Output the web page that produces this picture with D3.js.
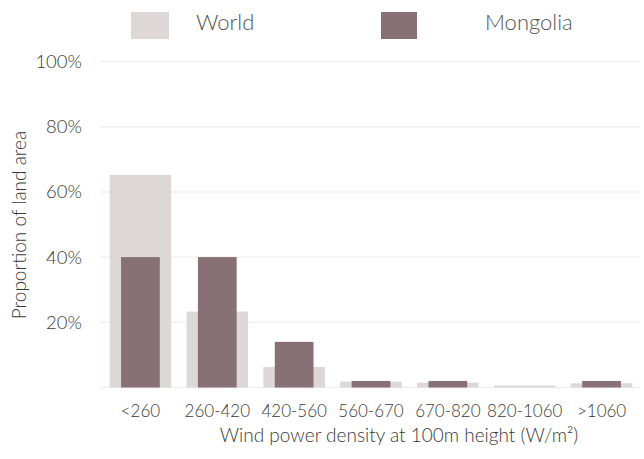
<!DOCTYPE html>
<html>
<head>
<meta charset="utf-8">
<script src="https://cdn.jsdelivr.net/npm/d3@7"></script>
<style>
  body { margin: 0; background: #fff; }
  text { font-family: Lato, "Open Sans", sans-serif; font-weight: 300; fill: #3a3a3a; }
</style>
</head>
<body>
<div id="chart"></div>
<script>
const categories = ["<260", "260-420", "420-560", "560-670", "670-820", "820-1060", ">1060"]
const world = [65.2, 23.3, 6.3, 1.8, 1.5, 0.6, 1.3]
const mongolia = [40, 40, 14, 2, 2, 0, 2]
const yTicks = [20, 40, 60, 80, 100]
const seriesNames = ["World", "Mongolia"]
const colors = {World: "#ddd7d8", Mongolia: "#877176"}

const W = 644, H = 459
const svg = d3.select("#chart").append("svg")
    .attr("width", W)
    .attr("height", H)

const x = d3.scaleBand()
    .domain(categories)
    .range([102, 640])
    .paddingInner(0.2)
    .paddingOuter(0.1)

const y = d3.scaleLinear()
    .domain([0, 100])
    .range([387.5, 61.5])

// gridlines
svg.append("g").selectAll("line")
    .data([0].concat(yTicks)).enter()
    .append("line")
    .attr("x1", 100).attr("x2", 640)
    .attr("y1", d => y(d)).attr("y2", d => y(d))
    .attr("stroke", "#f1f0f0")
    .attr("stroke-width", 1.5)

// y tick labels
svg.append("g").selectAll("text")
    .data(yTicks).enter()
    .append("text")
    .attr("x", 82)
    .attr("y", d => y(d) + 6.5)
    .attr("text-anchor", "end")
    .attr("font-size", 18.5)
    .text(d => d + "%")

// world bars (wide, behind)
svg.append("g").selectAll("rect")
    .data(world).enter()
    .append("rect")
    .attr("x", (d, i) => x(categories[i]))
    .attr("width", x.bandwidth())
    .attr("y", d => y(d))
    .attr("height", d => y(0) - y(d))
    .attr("fill", colors.World)

// mongolia bars (narrow, front)
const mw = x.bandwidth() * 0.63
svg.append("g").selectAll("rect")
    .data(mongolia).enter()
    .append("rect")
    .attr("x", (d, i) => x(categories[i]) + (x.bandwidth() - mw) / 2)
    .attr("width", mw)
    .attr("y", d => y(d))
    .attr("height", d => y(0) - y(d))
    .attr("fill", colors.Mongolia)

// x tick labels
svg.append("g").selectAll("text")
    .data(categories).enter()
    .append("text")
    .attr("x", d => x(d) + x.bandwidth() / 2)
    .attr("y", 416.5)
    .attr("text-anchor", "middle")
    .attr("font-size", 17)
    .text(d => d)

// axis titles
svg.append("text")
    .attr("x", 399)
    .attr("y", 442)
    .attr("text-anchor", "middle")
    .attr("font-size", 19)
    .text("Wind power density at 100m height (W/m²)")

svg.append("text")
    .attr("transform", "translate(26,225) rotate(-90)")
    .attr("text-anchor", "middle")
    .attr("font-size", 19)
    .text("Proportion of land area")

// legend
const legend = svg.append("g").selectAll("g")
    .data(seriesNames).enter()
    .append("g")
    .attr("transform", (d, i) => "translate(" + [131, 381][i] + ",12)")
legend.append("rect")
    .attr("width", (d, i) => [38, 36][i])
    .attr("height", 27)
    .attr("fill", d => colors[d])
legend.append("text")
    .attr("x", (d, i) => [65, 104][i])
    .attr("y", 18)
    .attr("font-size", 22)
    .style("fill", "#555")
    .text(d => d)
</script>
</body>
</html>
